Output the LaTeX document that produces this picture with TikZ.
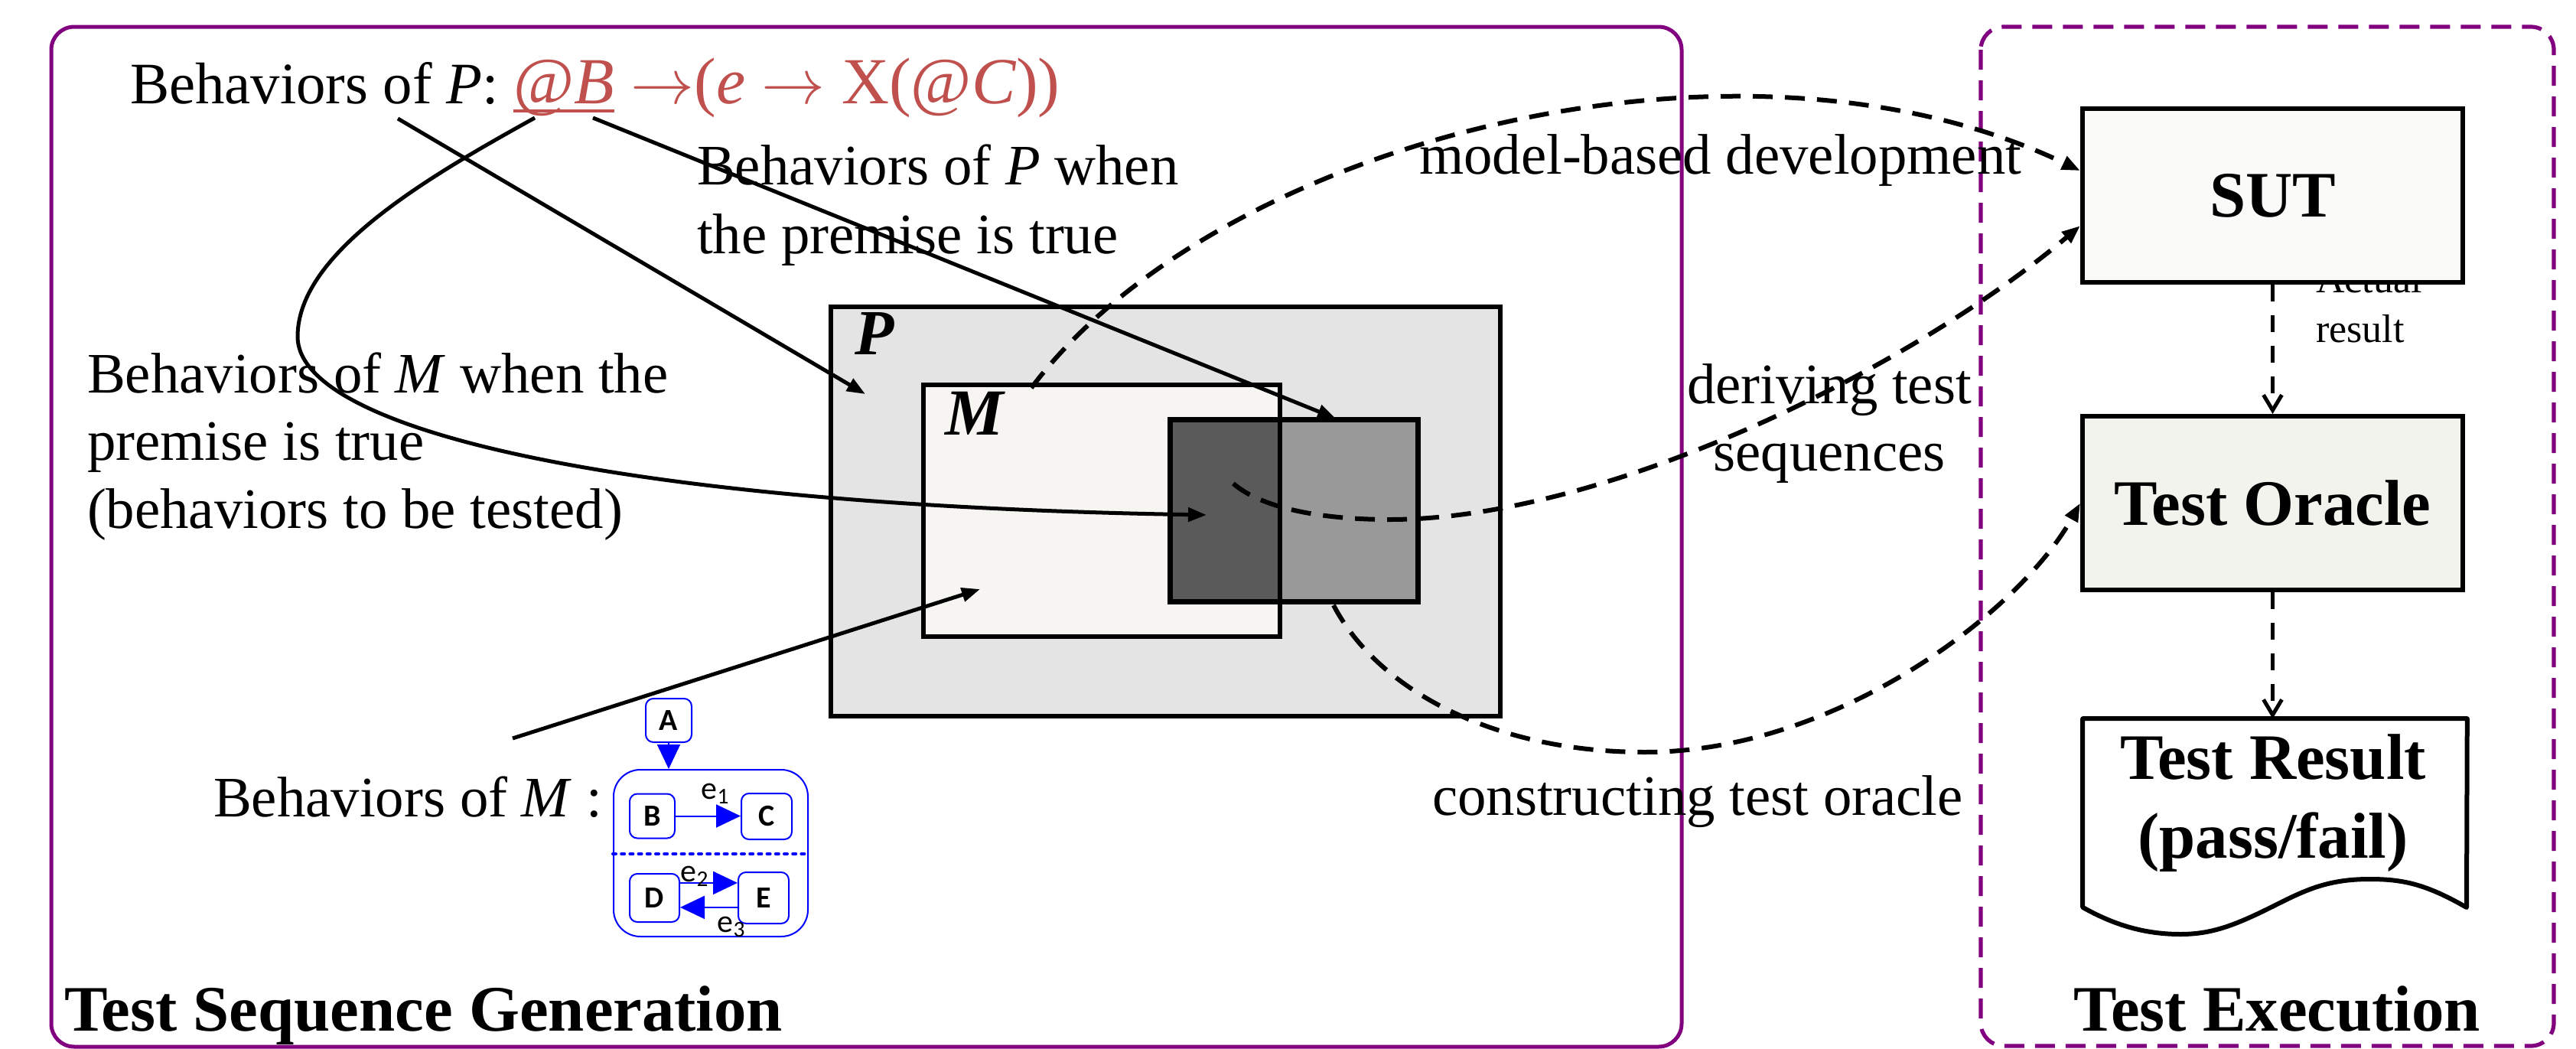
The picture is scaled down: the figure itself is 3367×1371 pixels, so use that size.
\documentclass[tikz,border=0pt]{standalone}
\usepackage{fontspec}
\setmainfont{Liberation Serif}
\newfontfamily\calfont{Carlito}
\usetikzlibrary{arrows.meta,calc}
\definecolor{purp}{HTML}{800080}
\definecolor{redc}{HTML}{C0504D}
\definecolor{pfill}{HTML}{E4E4E4}
\definecolor{mfill}{HTML}{F6F5F1}
\definecolor{gfill}{HTML}{999999}
\definecolor{dfill}{HTML}{5A5A5A}
\definecolor{sutfill}{HTML}{FAFAF8}
\definecolor{orfill}{HTML}{F3F3ED}
\definecolor{sblue}{HTML}{0000FF}
\newcommand\myul[1]{{\setbox0\hbox{#1}\rlap{\rule[-3.1pt]{\wd0}{1.2pt}}\box0}}
\begin{document}
\begin{tikzpicture}[x=0.25pt,y=-0.25pt,
  txt/.style={inner sep=0pt, outer sep=0pt, font=\fontsize{18.7}{22.5}\selectfont, align=left},
  bigbold/.style={inner sep=0pt, outer sep=0pt, font=\fontsize{21.2}{25.75}\selectfont\bfseries},
  region/.style={draw, line width=1.5pt, inner sep=0pt, outer sep=0pt},
  exbox/.style={draw, line width=1.5pt, inner sep=0pt, font=\fontsize{21.2}{25}\selectfont\bfseries},
  solidarrow/.style={line width=1.25pt, -{Triangle[length=6pt,width=4.5pt]}},
  dasharrow/.style={line width=1.5pt, dash pattern=on 6.5pt off 4pt, -{Triangle[length=6pt,width=4.5pt]}},
  vdash/.style={line width=1.25pt, dash pattern=on 5.5pt off 4.5pt, -{Straight Barb[length=5pt,width=6pt]}},
  state/.style={draw=sblue, line width=0.5pt, rounded corners=2.5pt, inner sep=0pt, font=\calfont\bfseries\fontsize{10}{12}\selectfont},
  blarrow/.style={sblue, line width=0.5pt, -{Triangle[length=8pt,width=7.5pt]}},
  elabel/.style={inner sep=0pt, font=\calfont\fontsize{10.5}{12}\selectfont, anchor=base west}
]
\useasboundingbox (0,0) rectangle (3367,1371);

% frames
\draw[purp, line width=1.25pt, rounded corners=7.5pt] (67,35) rectangle (2198,1368);
\draw[purp, line width=1.3pt, dash pattern=on 6.5pt off 3.5pt, rounded corners=7.5pt] (2589,35) rectangle (3338,1367);

% sets P, M and the premise region
\node[region, fill=pfill, minimum width=218.75pt, minimum height=133.75pt] (P) at (1523.5,668.5) {};
\node[region, line width=1.4pt, fill=mfill, minimum width=116.5pt, minimum height=82.25pt] (M) at (1440,667.5) {};
\node[region, line width=1.75pt, fill=gfill, minimum width=81pt, minimum height=59.5pt] (G) at (1691,667) {};
\fill[dfill] (G.north west) rectangle (M.east |- G.south);
\draw[line width=1.4pt] (M.east |- G.north) -- (M.east |- G.south);
\draw[line width=1.75pt] (G.north west) rectangle (G.south east);
\node[anchor=base west, inner sep=0pt, font=\fontsize{21}{25}\selectfont\bfseries\itshape] (Plbl) at (1117,463) {P};
\node[anchor=base west, inner sep=0pt, font=\fontsize{21.5}{25}\selectfont\bfseries\itshape] (Mlbl) at (1235,568) {M};

% texts (multi-line nodes are anchored at the baseline of their last line)
\node[txt, anchor=base west, font=\fontsize{19.2}{23}\selectfont] (title) at (170,135) {Behaviors of \textit{P}: \textcolor{redc}{\fontsize{21.5}{25}\selectfont\myul{@\textit{B}} $\rightarrow$(\textit{e} $\rightarrow$ X(@\textit{C}))}};
\node[txt, anchor=base west] (lblPtrue) at (911,331) {Behaviors of \textit{P} when\\the premise is true};
\node[txt, anchor=base west, font=\fontsize{18.7}{22.1}\selectfont] (lblMtrue) at (114,690) {Behaviors of \textit{M} when the\\premise is true\\(behaviors to be tested)};
\node[txt, anchor=base west] (lblM) at (279,1067) {Behaviors of \textit{M} :};
\node[txt, anchor=base west] (lblmbd) at (1855,227) {model-based development};
\node[txt, anchor=base, align=center, font=\fontsize{18.7}{22}\selectfont] (lblder) at (2391,615) {deriving test\\sequences};
\node[txt, anchor=base west] (lblcto) at (1872,1065) {constructing test oracle};
\node[txt, anchor=base west, font=\fontsize{13}{16.25}\selectfont] (lblact) at (3027,447) {Actual\\result};
\node[bigbold, anchor=base west] (tsg) at (84,1347) {Test Sequence Generation};
\node[bigbold, anchor=base] (tex) at (2976,1347) {Test Execution};

% test execution boxes
\node[exbox, fill=sutfill, minimum width=124.25pt, minimum height=56.75pt] (SUT) at (2970.5,255.5) {SUT};
\node[exbox, fill=orfill, minimum width=124.25pt, minimum height=56.75pt] (Oracle) at (2970.5,657.5) {Test Oracle};
\node[inner sep=0pt, minimum width=125.25pt, minimum height=61.25pt] (res) at (2973.5,1062.5) {};
\draw[line width=1.5pt, line join=round]
  (res.north west) -- (res.north east) -- (3224,1186)
  .. controls (3170,1155) and (3140,1149) .. (3097,1149)
  .. controls (3040,1149) and (3010,1165) .. (2970,1185)
  .. controls (2920,1210) and (2890,1221) .. (2850,1221)
  .. controls (2800,1221) and (2760,1207) .. (res.south west) -- cycle;
\node[bigbold, align=center, anchor=base] (restxt) at (2971,1121) {Test Result\\(pass/fail)};
\draw[vdash] (SUT.south) -- (Oracle.north);
\draw[vdash] (Oracle.south) -- (Oracle.south |- res.north);

% statechart of M
\node[draw=sblue, line width=0.5pt, rounded corners=8.75pt, minimum width=63.5pt, minimum height=54.5pt, inner sep=0pt] (cont) at (929,1115) {};
\draw[sblue, line width=1pt, dash pattern=on 1pt off 1.8pt, line cap=round] ([yshift=-0.25pt]cont.west) -- ([yshift=-0.25pt]cont.east);
\node[state, minimum width=15pt, minimum height=14.25pt] (A) at (874,941.5) {A};
\node[state, minimum width=14.75pt, minimum height=14.5pt] (B) at (852.5,1066.5) {B};
\node[state, minimum width=16.5pt, minimum height=15pt] (C) at (1002,1067) {C};
\node[state, minimum width=16.25pt, minimum height=15.75pt] (D) at (855.5,1173.5) {D};
\node[state, minimum width=16.5pt, minimum height=16.75pt] (E) at (998,1173.5) {E};
\draw[blarrow] (A) -- (A |- cont.north);
\draw[blarrow] (B.east) -- (B.east -| C.west);
\draw[blarrow] ([yshift=4.9pt]D.east) -- ([yshift=4.9pt]D.east -| E.west);
\draw[blarrow] ([yshift=-3.1pt]E.west) -- ([yshift=-3.1pt]E.west -| D.east);
\node[elabel] (e1) at (916,1044) {e\textsubscript{1}};
\node[elabel] (e2) at (889,1152) {e\textsubscript{2}};
\node[elabel] (e3) at (937,1218) {e\textsubscript{3}};

% coordinates for connector ends
\coordinate (a1) at (520,155);  \coordinate (a1e) at (1131,515);
\coordinate (a2) at (699,154);  \coordinate (a2e) at (1577,673);
\coordinate (a3) at (775,154);  \coordinate (a3e) at (1746,547);
\coordinate (a4) at (670,965);  \coordinate (a4e) at (1281,770);
\coordinate (d1) at (1348,507);
\coordinate (d2) at (1612,632);
\coordinate (d3) at (1743,791);

% solid arrows
\draw[solidarrow] (a1) -- (a1e);
\draw[solidarrow] (a2) .. controls (560,231) and (389,330) .. (389,440) .. controls (389,560) and (800,660) .. (a2e);
\draw[solidarrow] (a3) -- (a3e);
\draw[solidarrow] (a4) -- (a4e);

% dashed arrows
\draw[dasharrow] (d1) .. controls (1588,187) and (2269,8) .. ([yshift=8.1pt]SUT.west);
\draw[dasharrow] (d2) .. controls (1650,665) and (1730,679) .. (1816,679) .. controls (2100,679) and (2500,480) .. ([yshift=-9.9pt]SUT.west);
\draw[dasharrow] (d3) .. controls (1800,900) and (1950,983) .. (2150,983) .. controls (2400,983) and (2640,800) .. (Oracle.west);
\end{tikzpicture}
\end{document}
